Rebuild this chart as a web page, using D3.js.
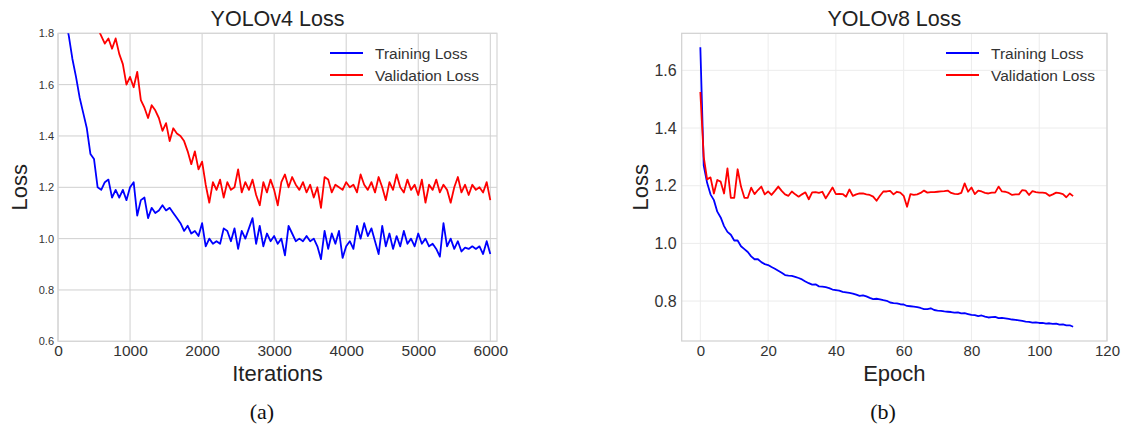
<!DOCTYPE html>
<html><head><meta charset="utf-8">
<script src="https://cdn.jsdelivr.net/npm/d3@7"></script>
<style>
body{margin:0;background:#fff;}
svg{display:block;font-family:"Liberation Sans",Arial,sans-serif;}
</style></head><body>
<svg id="chart" width="1139" height="430"></svg>
<script>
// ---- YOLOv4 (iterations) ----
const v4TrainStart = 100, v4ValStart = 550, v4Step = 50;
const v4Train = [
 1.86,1.79,1.70,1.63,1.55,1.49,1.43,1.33,1.31,1.20,
 1.19,1.22,1.23,1.16,1.19,1.16,1.19,1.15,1.20,1.22,
 1.09,1.15,1.16,1.08,1.12,1.10,1.11,1.13,1.11,1.12,
 1.10,1.08,1.06,1.03,1.05,1.02,1.03,1.01,1.06,0.97,
 1.00,0.98,0.99,0.98,1.04,1.03,0.99,1.04,0.96,1.03,
 1.00,1.04,1.08,0.98,1.05,0.97,1.02,0.99,1.01,0.98,
 1.00,0.935,1.05,1.02,0.99,1.00,0.99,1.01,0.99,1.00,
 0.97,0.92,1.03,0.96,1.02,0.98,1.03,0.925,0.97,0.99,
 0.96,1.05,1.00,1.06,1.01,1.04,0.99,0.94,1.05,0.97,
 1.02,0.96,1.01,0.97,1.03,0.98,1.00,0.97,1.02,0.98,
 1.00,0.97,0.98,0.96,0.93,1.06,0.97,1.00,0.96,0.99,
 0.95,0.965,0.96,0.97,0.96,0.97,0.94,0.99,0.94
];
const v4Val = [
 1.82,1.79,1.76,1.78,1.74,1.78,1.72,1.68,1.60,1.63,
 1.59,1.65,1.54,1.51,1.47,1.52,1.50,1.47,1.42,1.45,
 1.38,1.43,1.41,1.40,1.38,1.34,1.29,1.34,1.27,1.30,
 1.21,1.14,1.22,1.19,1.23,1.16,1.22,1.19,1.20,1.27,
 1.18,1.22,1.19,1.23,1.17,1.13,1.22,1.18,1.23,1.19,
 1.13,1.22,1.25,1.20,1.24,1.21,1.19,1.22,1.18,1.21,
 1.16,1.20,1.12,1.24,1.23,1.18,1.21,1.20,1.19,1.22,
 1.20,1.21,1.18,1.25,1.21,1.19,1.22,1.18,1.24,1.20,
 1.15,1.22,1.19,1.25,1.20,1.18,1.23,1.19,1.21,1.17,
 1.23,1.14,1.21,1.19,1.23,1.18,1.21,1.19,1.14,1.20,
 1.24,1.18,1.21,1.17,1.21,1.19,1.20,1.18,1.22,1.15
];
const v4XTicks = [0,1000,2000,3000,4000,5000,6000];
const v4YTicks = [0.6,0.8,1.0,1.2,1.4,1.6,1.8];

// ---- YOLOv8 (epochs 0..110) ----
const v8Train = [
 1.68,1.27,1.21,1.17,1.15,1.11,1.09,1.06,1.04,1.03,
 1.01,1.01,0.99,0.98,0.97,0.955,0.945,0.945,0.935,0.928,
 0.925,0.918,0.912,0.905,0.898,0.89,0.888,0.887,0.884,0.88,
 0.875,0.868,0.862,0.857,0.858,0.851,0.850,0.848,0.845,0.840,
 0.838,0.836,0.832,0.830,0.828,0.826,0.822,0.818,0.820,0.816,
 0.811,0.807,0.808,0.806,0.803,0.801,0.795,0.793,0.792,0.789,
 0.788,0.783,0.782,0.781,0.779,0.776,0.772,0.772,0.775,0.769,
 0.767,0.766,0.764,0.763,0.762,0.760,0.761,0.757,0.758,0.755,
 0.752,0.751,0.748,0.750,0.746,0.743,0.744,0.745,0.741,0.742,
 0.740,0.738,0.736,0.735,0.733,0.731,0.729,0.728,0.725,0.726,
 0.724,0.724,0.722,0.723,0.721,0.722,0.718,0.719,0.716,0.716,
 0.711
];
const v8Val = [
 1.525,1.30,1.222,1.229,1.173,1.22,1.214,1.173,1.26,1.158,
 1.158,1.257,1.197,1.158,1.158,1.193,1.171,1.185,1.197,1.17,
 1.18,1.168,1.182,1.197,1.182,1.170,1.165,1.18,1.170,1.162,
 1.170,1.177,1.153,1.177,1.178,1.175,1.179,1.156,1.175,1.194,
 1.171,1.172,1.171,1.162,1.187,1.165,1.170,1.173,1.173,1.170,
 1.168,1.162,1.148,1.165,1.18,1.18,1.182,1.17,1.179,1.176,
 1.165,1.127,1.171,1.168,1.170,1.175,1.183,1.176,1.178,1.178,
 1.179,1.180,1.181,1.183,1.175,1.172,1.171,1.175,1.208,1.179,
 1.194,1.171,1.183,1.180,1.175,1.173,1.176,1.176,1.197,1.180,
 1.179,1.175,1.168,1.170,1.170,1.185,1.183,1.168,1.181,1.178,
 1.176,1.176,1.174,1.165,1.170,1.176,1.174,1.171,1.160,1.173,
 1.164
];
const v8XTicks = [0,20,40,60,80,100,120];
const v8YTicks = [0.8,1.0,1.2,1.4,1.6];

const seriesNames = ["Training Loss","Validation Loss"];
const seriesColors = ["#0000ff","#ff0000"];

const svg = d3.select("#chart");

function panel(cfg){
  const g = svg.append("g");
  const x = d3.scaleLinear().domain(cfg.xDomain).range([cfg.left, cfg.right]);
  const y = d3.scaleLinear().domain(cfg.yDomain).range([cfg.bottom, cfg.top]);
  const clipId = "clip" + cfg.id;
  svg.append("clipPath").attr("id", clipId).append("rect")
    .attr("x", cfg.left).attr("y", cfg.top)
    .attr("width", cfg.right - cfg.left).attr("height", cfg.bottom - cfg.top);

  // grid
  g.append("g").selectAll("line").data(cfg.xTicks.filter(t => x(t) >= cfg.left - 0.5 && x(t) <= cfg.right + 0.5)).join("line")
    .attr("x1", d => x(d)).attr("x2", d => x(d)).attr("y1", cfg.top).attr("y2", cfg.bottom)
    .attr("stroke", cfg.gridColor).attr("stroke-width", 1);
  g.append("g").selectAll("line").data(cfg.yTicks).join("line")
    .attr("y1", d => y(d)).attr("y2", d => y(d)).attr("x1", cfg.left).attr("x2", cfg.right)
    .attr("stroke", cfg.gridColor).attr("stroke-width", 1);
  // frame
  g.append("rect").attr("x", cfg.left).attr("y", cfg.top)
    .attr("width", cfg.right - cfg.left).attr("height", cfg.bottom - cfg.top)
    .attr("fill", "none").attr("stroke", cfg.frameColor).attr("stroke-width", 1.2);

  // axes via d3 axis (ticks hidden, labels only)
  const xAxis = g.append("g").attr("transform", `translate(0,${cfg.bottom})`)
    .call(d3.axisBottom(x).tickValues(cfg.xTicks).tickSize(0).tickPadding(cfg.xPad).tickFormat(d3.format("d")));
  xAxis.select(".domain").remove();
  xAxis.selectAll("text").attr("font-size", cfg.xFont).attr("fill", "#333")
    .attr("font-family", '"Liberation Sans",Arial,sans-serif');
  const yAxis = g.append("g").attr("transform", `translate(${cfg.left},0)`)
    .call(d3.axisLeft(y).tickValues(cfg.yTicks).tickSize(0).tickPadding(cfg.yPad).tickFormat(d3.format(".1f")));
  yAxis.select(".domain").remove();
  yAxis.selectAll("text").attr("font-size", cfg.yFont).attr("fill", "#333")
    .attr("font-family", '"Liberation Sans",Arial,sans-serif');

  // lines
  const line = d3.line().x(d => x(d[0])).y(d => y(d[1]));
  cfg.series.forEach((s, i) => {
    g.append("path").datum(s).attr("d", line)
      .attr("fill", "none").attr("stroke", seriesColors[i]).attr("stroke-width", 1.8)
      .attr("stroke-linejoin", "round").attr("clip-path", `url(#${clipId})`);
  });

  // title & labels
  const cx = (cfg.left + cfg.right) / 2;
  g.append("text").attr("x", cx).attr("y", 26).attr("text-anchor", "middle")
    .attr("font-size", 21.5).attr("fill", "#222").text(cfg.title);
  g.append("text").attr("x", cx).attr("y", cfg.bottom + 40).attr("text-anchor", "middle")
    .attr("font-size", 22).attr("fill", "#222").text(cfg.xLabel);
  g.append("text").attr("transform", `translate(${cfg.yLabelX},${(cfg.top + cfg.bottom) / 2}) rotate(-90)`)
    .attr("text-anchor", "middle").attr("font-size", 22).attr("fill", "#222").text("Loss");

  // legend
  seriesNames.forEach((n, i) => {
    const ly = cfg.legendY + i * 22;
    g.append("line").attr("x1", cfg.legendX).attr("x2", cfg.legendX + 33).attr("y1", ly).attr("y2", ly)
      .attr("stroke", seriesColors[i]).attr("stroke-width", 1.8);
    g.append("text").attr("x", cfg.legendX + 45).attr("y", ly + 5.5).attr("font-size", 15.5)
      .attr("fill", "#333").text(n);
  });

  g.append("text").attr("x", cfg.captionX).attr("y", 419).attr("text-anchor", "middle")
    .attr("font-family", '"Liberation Serif","DejaVu Serif",serif').attr("font-size", 22)
    .attr("fill", "#111").text(cfg.caption);
}

panel({
  id: "a", left: 58, right: 497, top: 33.3, bottom: 341.3,
  xDomain: [0, 6093], yDomain: [0.6, 1.8],
  xTicks: v4XTicks, yTicks: v4YTicks,
  gridColor: "#cfcfcf", frameColor: "#d6d6d6",
  xFont: 15.5, yFont: 11, xPad: 4, yPad: 4,
  series: [
    v4Train.map((v, i) => [v4TrainStart + i * v4Step, v]),
    v4Val.map((v, i) => [v4ValStart + i * v4Step, v])
  ],
  title: "YOLOv4 Loss", xLabel: "Iterations", yLabelX: 27,
  legendX: 330, legendY: 53, caption: "(a)", captionX: 262
});

panel({
  id: "b", left: 681.7, right: 1107, top: 33.3, bottom: 341,
  xDomain: [-5.5, 120], yDomain: [0.6615, 1.7285],
  xTicks: v8XTicks, yTicks: v8YTicks,
  gridColor: "#ececec", frameColor: "#d0d0d0",
  xFont: 15, yFont: 16, xPad: 4, yPad: 5,
  series: [
    v8Train.map((v, i) => [i, v]),
    v8Val.map((v, i) => [i, v])
  ],
  title: "YOLOv8 Loss", xLabel: "Epoch", yLabelX: 648,
  legendX: 946, legendY: 53, caption: "(b)", captionX: 883
});
</script>
</body></html>
